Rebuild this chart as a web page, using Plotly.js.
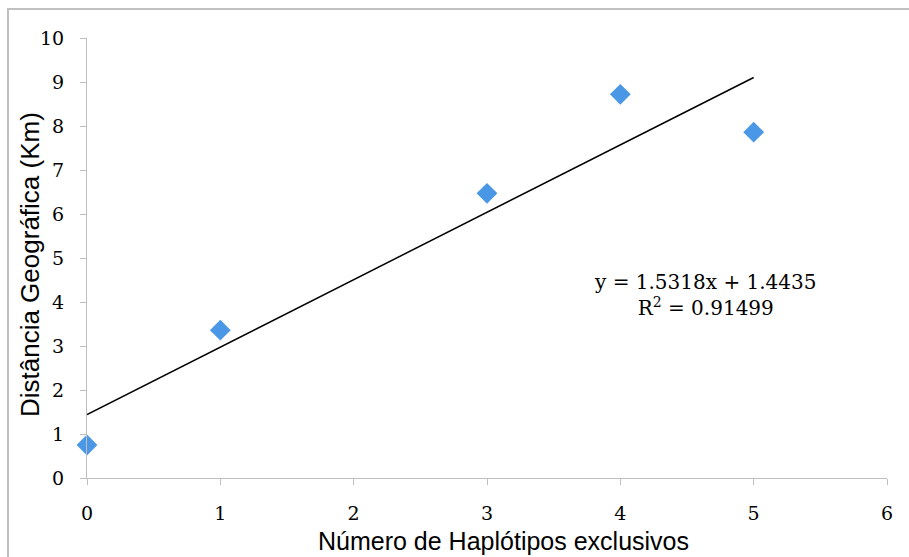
<!DOCTYPE html>
<html>
<head>
<meta charset="utf-8">
<script src="https://cdn.plot.ly/plotly-3.0.1.min.js"></script>
<style>html,body{margin:0;padding:0;background:#fff;}#chart{width:909px;height:557px;}</style>
</head>
<body>
<div id="chart"></div>
<script>
// Data
const haplotipos = [0, 1, 3, 4, 5];
const distancia = [0.75, 3.36, 6.47, 8.72, 7.86];
const trendX = [0, 5];
const trendY = [1.4435, 9.1025];
const xTicks = [0, 1, 2, 3, 4, 5, 6];
const yTicks = [0, 1, 2, 3, 4, 5, 6, 7, 8, 9, 10];
const equationText = 'y = 1.5318x + 1.4435<br>R<sup>2</sup> = 0.91499';
const xTitle = 'Número de Haplótipos exclusivos';
const yTitle = 'Distância Geográfica (Km)';

const serif = 'DejaVu Serif, serif';
const sans = 'Liberation Sans, Arial, sans-serif';

const traces = [
  {
    x: trendX, y: trendY, mode: 'lines', type: 'scatter',
    line: {color: '#000000', width: 1.5}, hoverinfo: 'skip', showlegend: false
  },
  {
    x: haplotipos, y: distancia, mode: 'markers', type: 'scatter',
    marker: {symbol: 'diamond', size: 16, color: '#4a97e6', line: {width: 0}},
    showlegend: false, cliponaxis: false
  }
];

const layout = {
  width: 909, height: 557,
  margin: {l: 87, r: 22, t: 38, b: 79},
  paper_bgcolor: '#ffffff', plot_bgcolor: '#ffffff',
  showlegend: false,
  xaxis: {
    range: [0, 6], tickvals: xTicks, ticktext: xTicks.map(String),
    showgrid: false, zeroline: false, showline: true, linecolor: '#bfbfbf', linewidth: 1,
    ticks: 'outside', ticklen: 6, tickcolor: '#bfbfbf', ticklabelstandoff: 12,
    tickfont: {family: serif, size: 19, color: '#000'}
  },
  yaxis: {
    range: [0, 10], tickvals: yTicks, ticktext: yTicks.map(String),
    showgrid: false, zeroline: false, showline: true, linecolor: '#bfbfbf', linewidth: 1,
    ticks: 'outside', ticklen: 6, tickcolor: '#bfbfbf', ticklabelstandoff: 12,
    tickfont: {family: serif, size: 19, color: '#000'}
  },
  annotations: [
    {
      x: 4.635, y: 4.16, xref: 'x', yref: 'y', text: equationText, showarrow: false,
      align: 'center', xanchor: 'center', yanchor: 'middle',
      font: {family: serif, size: 20, color: '#000'}
    },
    {
      x: 0.52, y: -0.143, xref: 'paper', yref: 'paper', text: xTitle, showarrow: false,
      xanchor: 'center', yanchor: 'middle',
      font: {family: sans, size: 25, color: '#000'}
    },
    {
      x: -0.07125, y: 0.484, xref: 'paper', yref: 'paper', text: yTitle, showarrow: false,
      textangle: -90, xanchor: 'center', yanchor: 'middle',
      font: {family: sans, size: 26, color: '#000'}
    }
  ],
  shapes: [
    {type: 'rect', xref: 'paper', yref: 'paper', x0: -0.09875, x1: 1.2, y0: -0.3, y1: 1.0659,
     line: {color: '#c0c0c0', width: 2}, fillcolor: 'rgba(0,0,0,0)', layer: 'below'}
  ]
};

Plotly.newPlot('chart', traces, layout, {displayModeBar: false, staticPlot: true});
</script>
</body>
</html>
